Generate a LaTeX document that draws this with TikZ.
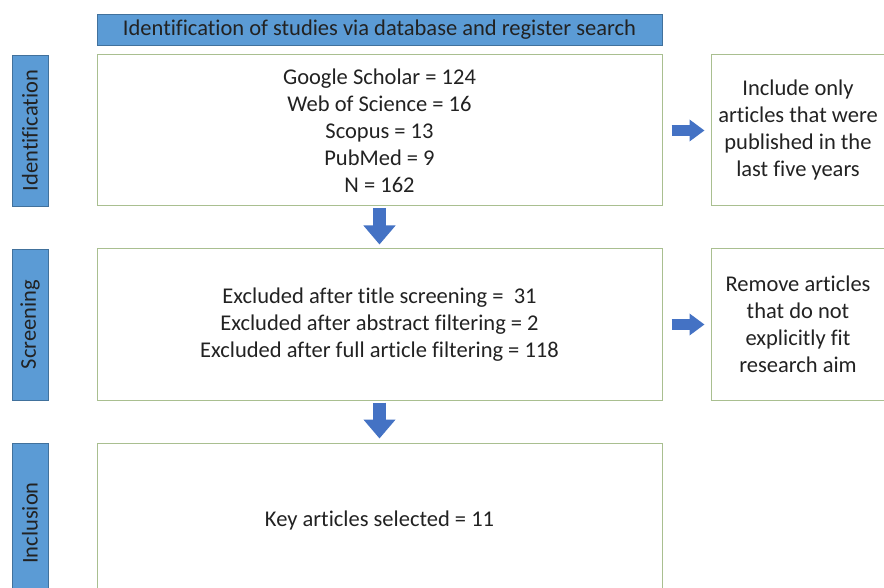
\documentclass[tikz,border=0pt]{standalone}
\usepackage{fontspec}
\setmainfont[Ligatures=NoCommon]{Carlito}
\usetikzlibrary{arrows.meta}
\definecolor{barblue}{HTML}{5B9BD5}
\definecolor{bardark}{HTML}{41719C}
\definecolor{arrblue}{HTML}{4472C4}
\definecolor{boxgreen}{HTML}{A9BF90}
\definecolor{txt}{HTML}{222222}
\tikzset{
  every node/.style={text=txt, font=\fontsize{22.5}{27}\selectfont},
  bar/.style={draw=bardark, fill=barblue, line width=0.8pt, inner sep=0pt},
  sidebar/.style={bar, rotate=90, minimum width=151pt, minimum height=36pt},
  stagebox/.style={draw=boxgreen, fill=white, line width=1pt, inner sep=0pt, align=center},
  downarrow/.style={draw=arrblue, line width=13pt, -{Triangle[width=31pt,length=19pt]}, shorten <=2pt, shorten >=4pt},
  rightarrow/.style={draw=arrblue, line width=11pt, -{Triangle[width=21pt,length=15pt]}, shorten <=9pt, shorten >=6pt}
}
\begin{document}
\begin{tikzpicture}[x=1pt,y=-1pt]
\useasboundingbox (0,0) rectangle (884,588);
\clip (0,0) rectangle (884,588);
\fill[white] (0,0) rectangle (884,588);
% title bar
\node[bar, minimum width=565pt, minimum height=31pt] (title) at (379.5,29.5) {Identification of studies via database and register search};
% side labels
\node[sidebar] (lid) at (30,130.5) {Identification};
\node[sidebar] (lsc) at (30,324.5) {Screening};
\node[sidebar, minimum width=160pt] (lin) at (30,523) {Inclusion};
% main boxes
\node[stagebox, minimum width=565pt, minimum height=151pt] (box1) at (379.5,130.5)
  {Google Scholar = 124\\Web of Science = 16\\Scopus = 13\\PubMed = 9\\N = 162};
\node[stagebox, minimum width=565pt, minimum height=151pt] (box2) at (379.5,324.5)
  {Excluded after title screening =~~31\\Excluded after abstract filtering = 2\\Excluded after full article filtering = 118};
\node[stagebox, minimum width=565pt, minimum height=154pt] (box3) at (379.5,520)
  {Key articles selected = 11};
% right boxes
\node[stagebox, minimum width=174pt, minimum height=151pt] (rbox1) at (798,130.5)
  {Include only\\articles that were\\published in the\\last five years};
\node[stagebox, minimum width=174pt, minimum height=151pt] (rbox2) at (798,324.5)
  {Remove articles\\that do not\\explicitly fit\\research aim};
% arrows
\draw[downarrow] (box1.south) -- (box2.north);
\draw[downarrow] (box2.south) -- (box3.north);
\draw[rightarrow] (box1.east) -- (rbox1.west);
\draw[rightarrow] (box2.east) -- (rbox2.west);
\end{tikzpicture}
\end{document}
